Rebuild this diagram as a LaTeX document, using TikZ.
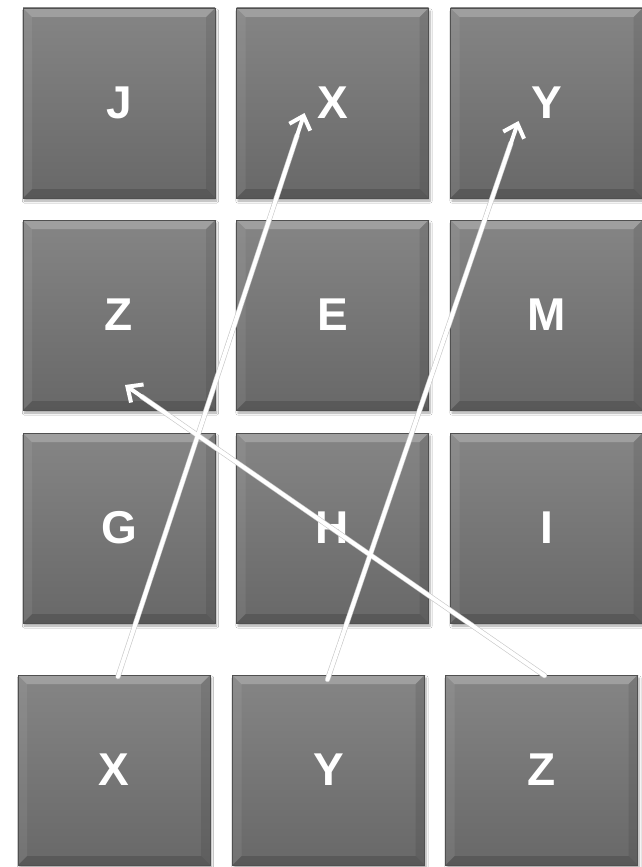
\documentclass[tikz,border=0pt]{standalone}
\usepackage{fontspec}
\setmainfont{Liberation Sans}
\usetikzlibrary{shadows.blur,arrows.meta}
\definecolor{facetop}{HTML}{858585}
\definecolor{facebot}{HTML}{686868}
\definecolor{edgedark}{HTML}{505050}
\tikzset{
  tile/.style={rectangle, minimum width=192pt, minimum height=190pt, inner sep=0pt,
    top color=facetop, bottom color=facebot, draw=edgedark, line width=0.8pt,
    blur shadow={shadow blur steps=6, shadow xshift=1.5pt, shadow yshift=-3pt, shadow opacity=35},
    text=white, font=\bfseries\fontsize{46}{46}\selectfont,
    path picture={
      \fill[white,opacity=0.22] (path picture bounding box.north west) -- (path picture bounding box.north east)
        -- ([xshift=-9pt,yshift=-9pt]path picture bounding box.north east) -- ([xshift=9pt,yshift=-9pt]path picture bounding box.north west) -- cycle;
      \fill[black,opacity=0.15] (path picture bounding box.south west) -- (path picture bounding box.south east)
        -- ([xshift=-9pt,yshift=9pt]path picture bounding box.south east) -- ([xshift=9pt,yshift=9pt]path picture bounding box.south west) -- cycle;
      \fill[white,opacity=0.07] (path picture bounding box.north west) -- (path picture bounding box.south west)
        -- ([xshift=9pt,yshift=9pt]path picture bounding box.south west) -- ([xshift=9pt,yshift=-9pt]path picture bounding box.north west) -- cycle;
      \fill[black,opacity=0.09] (path picture bounding box.north east) -- (path picture bounding box.south east)
        -- ([xshift=-9pt,yshift=9pt]path picture bounding box.south east) -- ([xshift=-9pt,yshift=-9pt]path picture bounding box.north east) -- cycle;
    }},
  link/.style={draw=white, line width=4pt, -{Straight Barb[length=12pt,width=22pt,line width=4pt]}, line cap=round},
  linkshade/.style={draw=black!22, line width=5.2pt, line cap=round}
}
\begin{document}
\begin{tikzpicture}[x=1pt,y=-1pt]
\useasboundingbox (0,0) rectangle (642,867);
\fill[white] (0,0) rectangle (642,867);
% row 1
\node[tile] (j)  at (119,103)   {J};
\node[tile] (x1) at (332.5,103) {X};
\node[tile] (y1) at (546.5,103) {Y};
% row 2
\node[tile] (z1) at (119,315)   {Z};
\node[tile] (e)  at (332.5,315) {E};
\node[tile] (m)  at (546.5,315) {M};
% row 3
\node[tile] (g)  at (119,528)   {G};
\node[tile] (h)  at (332.5,528) {H};
\node[tile] (i)  at (546.5,528) {I};
% row 4
\node[tile] (xb) at (114,770)   {X};
\node[tile] (yb) at (328.5,770) {Y};
\node[tile] (zb) at (541.5,770) {Z};
% arrow ends
\coordinate (xs) at ([xshift=4pt,yshift=-2pt]xb.north);
\coordinate (ys) at ([xshift=-1pt,yshift=-5pt]yb.north);
\coordinate (zs) at ([xshift=3pt,yshift=-1pt]zb.north);
\coordinate (xe) at ([xshift=-28pt,yshift=-10pt]x1.center);
\coordinate (ye) at ([xshift=-28pt,yshift=-18pt]y1.center);
\coordinate (ze) at ([xshift=6pt,yshift=-70pt]z1.center);
\draw[linkshade] (xs) -- ($(xs)!0.96!(xe)$);
\draw[linkshade] (ys) -- ($(ys)!0.96!(ye)$);
\draw[linkshade] (zs) -- ($(zs)!0.96!(ze)$);
\draw[link] (xs) -- (xe);
\draw[link] (ys) -- (ye);
\draw[link] (zs) -- (ze);
\end{tikzpicture}
\end{document}
